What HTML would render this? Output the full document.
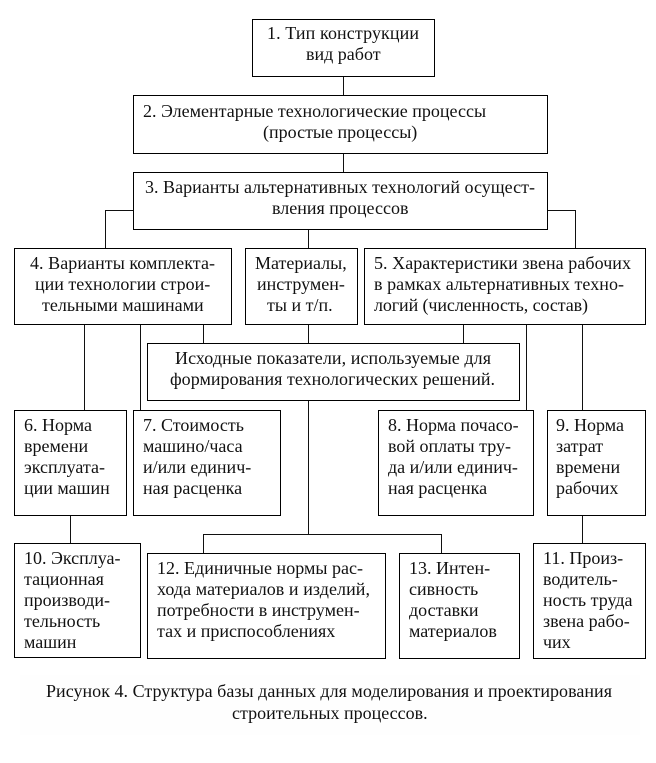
<!DOCTYPE html>
<html><head><meta charset="utf-8"><style>
html,body{margin:0;padding:0;background:#fff}
svg{display:block}
text{font-family:"Liberation Serif","Noto Serif CJK SC",serif;font-size:18px;fill:#111}
rect.b{fill:#fff;stroke:#000;stroke-width:1}
path{fill:none;stroke:#111;stroke-width:1}
</style></head><body>
<svg width="656" height="763" viewBox="0 0 656 763" xmlns="http://www.w3.org/2000/svg">
<rect x="20" y="675" width="620" height="60" fill="#fefefe"/>
<path d="M343.5 76V95M343.5 153V172M133 210.500H105.500V248M547 210.500H575.500V248M308.500 229V248M84.500 324V410M140.500 324V410M203.500 324V343M308.500 324V343M463.500 324V343M526.500 324V410M582.500 324V410M308.500 400V534M203.500 553V534.500H441.500V553M70.500 515V543M582.500 515V543"/>
<rect class="b" x="252.500" y="19.500" width="182" height="57"/>
<rect class="b" x="133.500" y="95.500" width="414" height="58"/>
<rect class="b" x="133.500" y="172.500" width="414" height="57"/>
<rect class="b" x="14.500" y="248.500" width="217" height="76"/>
<rect class="b" x="245.500" y="248.500" width="112" height="76"/>
<rect class="b" x="364.500" y="248.500" width="281" height="76"/>
<rect class="b" x="147.500" y="343.500" width="372" height="57"/>
<rect class="b" x="14.500" y="410.500" width="112" height="105"/>
<rect class="b" x="133.500" y="410.500" width="147" height="105"/>
<rect class="b" x="378.500" y="410.500" width="155" height="105"/>
<rect class="b" x="547.500" y="410.500" width="98" height="105"/>
<rect class="b" x="14.500" y="543.500" width="126" height="114"/>
<rect class="b" x="147.500" y="553.500" width="238" height="105"/>
<rect class="b" x="399.500" y="553.500" width="120" height="105"/>
<rect class="b" x="533.500" y="543.500" width="112" height="115"/>

<text x="267" y="39" textLength="152">1. Тип конструкции</text>
<text x="306" y="60">вид работ</text>
<text x="143" y="117">2. Элементарные технологические процессы</text>
<text x="263" y="138">(простые процессы)</text>
<text x="145" y="193" textLength="390">3. Варианты альтернативных технологий осущест-</text>
<text x="272" y="214">вления процессов</text>
<text x="30" y="269" textLength="185">4. Варианты комплекта-</text>
<text x="35" y="290">ции технологии строи-</text>
<text x="42" y="311">тельными машинами</text>
<text x="255" y="269">Материалы,</text>
<text x="257" y="290">инструмен-</text>
<text x="267" y="311">ты и т/п.</text>
<text x="374" y="269" textLength="257">5. Характеристики звена рабочих</text>
<text x="374" y="290" textLength="250">в рамках альтернативных техно-</text>
<text x="374" y="311" textLength="214">логий (численность, состав)</text>
<text x="175" y="364" textLength="316">Исходные показатели, используемые для</text>
<text x="170" y="385" textLength="325">формирования технологических решений.</text>
<text x="24" y="431">6. Норма</text>
<text x="24" y="452">времени</text>
<text x="24" y="473">эксплуата-</text>
<text x="24" y="494">ции машин</text>
<text x="143" y="431">7. Стоимость</text>
<text x="143" y="452">машино/часа</text>
<text x="143" y="473">и/или единич-</text>
<text x="143" y="494">ная расценка</text>
<text x="388" y="431">8. Норма почасо-</text>
<text x="388" y="452">вой оплаты тру-</text>
<text x="388" y="473">да и/или единич-</text>
<text x="388" y="494">ная расценка</text>
<text x="556" y="431">9. Норма</text>
<text x="556" y="452">затрат</text>
<text x="556" y="473">времени</text>
<text x="556" y="494">рабочих</text>
<text x="24" y="564">10. Эксплуа-</text>
<text x="24" y="585">тационная</text>
<text x="24" y="606">производи-</text>
<text x="24" y="627">тельность</text>
<text x="24" y="648">машин</text>
<text x="157" y="574" textLength="206">12. Единичные нормы рас-</text>
<text x="157" y="595" textLength="213">хода материалов и изделий,</text>
<text x="157" y="616">потребности в инструмен-</text>
<text x="157" y="637">тах и приспособлениях</text>
<text x="409" y="574">13. Интен-</text>
<text x="409" y="595">сивность</text>
<text x="409" y="616">доставки</text>
<text x="409" y="637">материалов</text>
<text x="543" y="564">11. Произ-</text>
<text x="543" y="585">водитель-</text>
<text x="543" y="606">ность труда</text>
<text x="543" y="627">звена рабо-</text>
<text x="543" y="648">чих</text>
<text x="46" y="697" textLength="566">Рисунок 4. Структура базы данных для моделирования и проектирования</text>
<text x="232" y="719">строительных процессов.</text>
</svg>
</body></html>
